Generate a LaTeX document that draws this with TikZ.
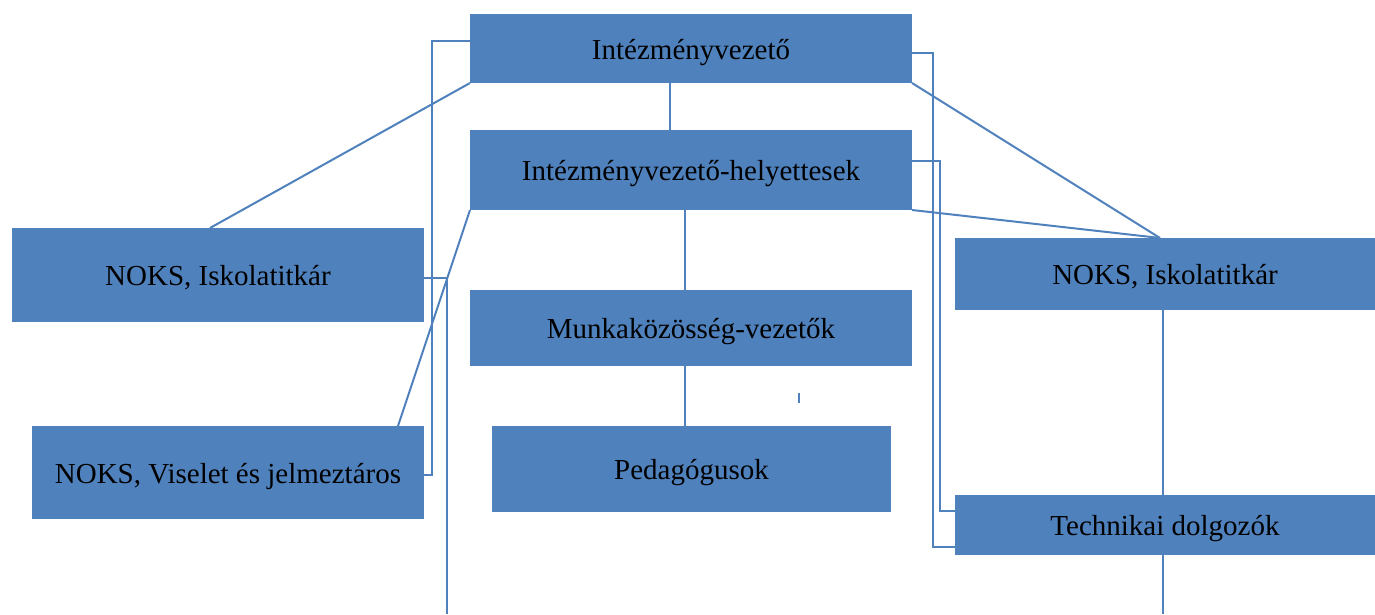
\documentclass[tikz,border=0pt]{standalone}
\usepackage{fontspec}
\setmainfont{Liberation Serif}
\definecolor{boxblue}{HTML}{4F81BD}
\definecolor{lineblue}{HTML}{4F81BD}
\tikzset{
  orgbox/.style={rectangle, fill=boxblue, inner sep=0pt, outer sep=0pt, text=black,
    text height=27pt, text depth=5.5pt,
    font=\fontsize{29}{34}\selectfont},
  conn/.style={draw=lineblue, line width=2pt}
}
\begin{document}
\begin{tikzpicture}[x=1pt,y=-1pt]
\useasboundingbox (0,0) rectangle (1375,614);
\node[orgbox, minimum width=442pt, minimum height=69pt] (A) at (691,48.5) {Intézményvezető};
\node[orgbox, minimum width=442pt, minimum height=80pt] (B) at (691,170) {Intézményvezető-helyettesek};
\node[orgbox, minimum width=442pt, minimum height=76pt] (C) at (691,328) {Munkaközösség-vezetők};
\node[orgbox, minimum width=399pt, minimum height=86pt] (D) at (691.5,469) {Pedagógusok};
\node[orgbox, minimum width=412pt, minimum height=94pt] (L1) at (218,275) {NOKS, Iskolatitkár};
\node[orgbox, minimum width=392pt, minimum height=93pt] (L2) at (228,472.5) {NOKS, Viselet és jelmeztáros};
\node[orgbox, minimum width=420pt, minimum height=72pt] (R1) at (1165,274) {NOKS, Iskolatitkár};
\node[orgbox, minimum width=420pt, minimum height=60pt] (R2) at (1165,525) {Technikai dolgozók};

\coordinate (r1t) at ([xshift=-5pt]R1.north);
\coordinate (lb) at (447,614);
\coordinate (rb) at (1163,614);
\coordinate (t1) at (799,393);
\coordinate (t2) at (799,403);

% vertical chain
\draw[conn] ([xshift=-21pt]A.south) -- ([xshift=-21pt]A.south |- B.north);
\draw[conn] ([xshift=-6pt]B.south) -- ([xshift=-6pt]B.south |- C.north);
\draw[conn] ([xshift=-6pt]C.south) -- ([xshift=-6pt]C.south |- D.north);
\draw[conn] (t1) -- (t2);
% diagonals
\draw[conn] (A.south west) -- ([xshift=-8pt]L1.north);
\draw[conn] (A.south east) -- (r1t);
\draw[conn] (B.south east) -- (r1t);
\draw[conn] (B.south west) -- ([xshift=-26pt]L2.north east);
% left elbows
\draw[conn] ([yshift=8pt]A.west) -- ++(-38,0) |- ([yshift=-2.5pt]L2.east);
\draw[conn] ([yshift=-3pt]L1.east) -| (lb);
% right elbows
\draw[conn] ([yshift=-4.5pt]A.east) -- ++(21,0) |- ([yshift=-22pt]R2.west);
\draw[conn] ([yshift=9pt]B.east) -- ++(28,0) |- ([yshift=14pt]R2.west);
% right column
\draw[conn] ([xshift=-2pt]R1.south) -- ([xshift=-2pt]R2.north);
\draw[conn] ([xshift=-2pt]R2.south) -- (rb);
\end{tikzpicture}
\end{document}
